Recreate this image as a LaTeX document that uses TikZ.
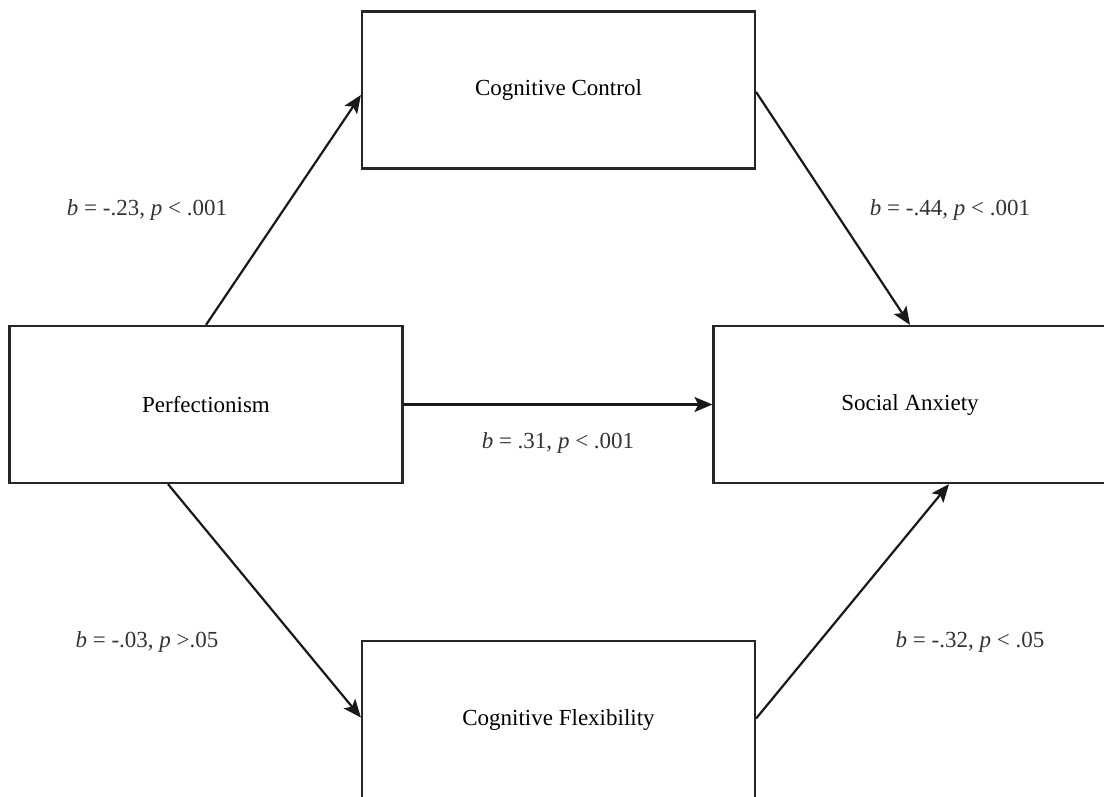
\documentclass[tikz,border=0pt]{standalone}
\usepackage{fontspec}
\setmainfont{Liberation Serif}
\usetikzlibrary{arrows.meta}
\begin{document}
\begin{tikzpicture}[x=1pt,y=-1pt,
  box/.style={draw=black!85, line width=2.2pt, minimum width=393pt, minimum height=157pt, inner sep=0pt, font=\fontsize{23}{28}\selectfont},
  lbl/.style={font=\fontsize{23}{28}\selectfont, inner sep=0pt, text=black!80},
  conn/.style={line width=2.2pt, draw=black!90, -{Stealth[length=18pt,width=15pt,inset=4pt]}}]
\clip (0,0) rectangle (1104,796);
\useasboundingbox (0,0) rectangle (1104,796);
\fill[white] (0,0) rectangle (1104,796);
\node[box] (pf) at (206,404.5) {Perfectionism};
\node[box] (cc) at (558.5,90) {Cognitive Control};
\node[box] (sa) at (910,404.5) {Social Anxiety};
\node[box] (cf) at (558.5,719.5) {Cognitive Flexibility};
\draw[conn] (pf.north) -- ([yshift=-5pt]cc.west);
\draw[conn] ([yshift=-2pt]cc.east) -- (sa.north);
\draw[conn] (pf.east) -- (sa.west);
\draw[conn] ([xshift=-38pt]pf.south) -- ([yshift=2pt]cf.west);
\draw[conn] ([yshift=1pt]cf.east) -- ([xshift=39pt]sa.south);
\node[lbl] (l1) at (147,210) {\textit{b} = -.23, \textit{p} < .001};
\node[lbl] (l2) at (950,210) {\textit{b} = -.44, \textit{p} < .001};
\node[lbl] (l3) at (558,443) {\textit{b} = .31, \textit{p} < .001};
\node[lbl] (l4) at (147,642) {\textit{b} = -.03, \textit{p} >.05};
\node[lbl] (l5) at (970,642) {\textit{b} = -.32, \textit{p} < .05};
\end{tikzpicture}
\end{document}
